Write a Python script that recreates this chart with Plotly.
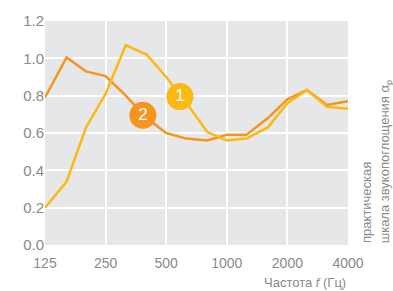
import plotly.graph_objects as go

freqs = [125, 160, 200, 250, 315, 400, 500, 630, 800, 1000, 1250, 1600, 2000, 2500, 3150, 4000]
series1 = [0.20, 0.34, 0.63, 0.81, 1.07, 1.02, 0.90, 0.76, 0.605, 0.56, 0.57, 0.63, 0.76, 0.83, 0.74, 0.73]
series2 = [0.79, 1.005, 0.93, 0.905, 0.80, 0.68, 0.60, 0.57, 0.56, 0.59, 0.59, 0.68, 0.78, 0.83, 0.75, 0.77]
x_ticks = [125, 250, 500, 1000, 2000, 4000]
y_ticks = [0.0, 0.2, 0.4, 0.6, 0.8, 1.0, 1.2]
series_labels = ["1", "2"]

YELLOW = "#FDB913"
ORANGE = "#F7941D"
GRAY = "#8a8a8a"
FONT = "Liberation Sans, Arial, sans-serif"

fig = go.Figure()
fig.add_trace(go.Scatter(x=freqs, y=series2, mode="lines",
                         line=dict(color=ORANGE, width=2.5), hoverinfo="skip"))
fig.add_trace(go.Scatter(x=freqs, y=series1, mode="lines",
                         line=dict(color=YELLOW, width=2.5), hoverinfo="skip"))
# numbered badges
fig.add_trace(go.Scatter(x=[383], y=[0.695], mode="markers+text", text=[series_labels[1]],
                         marker=dict(size=27, color=ORANGE, line=dict(width=0)),
                         textfont=dict(color="white", size=17, family=FONT),
                         textposition="middle center", hoverinfo="skip"))
fig.add_trace(go.Scatter(x=[585], y=[0.795], mode="markers+text", text=[series_labels[0]],
                         marker=dict(size=27, color=YELLOW, line=dict(width=0)),
                         textfont=dict(color="white", size=17, family=FONT),
                         textposition="middle center", hoverinfo="skip"))

fig.update_layout(
    width=393, height=291,
    margin=dict(l=45, r=45, t=18, b=46),
    paper_bgcolor="white", plot_bgcolor="#e6e7e8",
    showlegend=False,
    font=dict(family=FONT, color=GRAY, size=14),
    xaxis=dict(type="log", range=[2.09691, 3.60206], tickvals=x_ticks,
               ticktext=[str(v) for v in x_ticks],
               showgrid=True, gridcolor="white", gridwidth=1.5,
               zeroline=False, showline=False, ticks="", ticklen=0,
               ticklabelstandoff=8,
               tickfont=dict(size=14, color=GRAY)),
    yaxis=dict(range=[0, 1.2], tickvals=y_ticks, tickformat=".1f",
               showgrid=True, gridcolor="white", gridwidth=1.5,
               zeroline=False, showline=False, ticks="",
               tickfont=dict(size=15, color=GRAY)),
    annotations=[
        dict(text="Частота <i>f</i> (Гц)", xref="paper", yref="paper",
             x=1.0, y=-0.167, xanchor="right", yanchor="middle", showarrow=False,
             font=dict(size=13, color=GRAY, family=FONT)),
        dict(text="практическая", xref="paper", yref="paper",
             x=1.03, y=0.0, xanchor="left", yanchor="bottom", textangle=-90,
             showarrow=False, font=dict(size=13, color=GRAY, family=FONT)),
        dict(text="шкала звукопоглощения α<sub>p</sub>", xref="paper", yref="paper",
             x=1.09, y=0.0, xanchor="left", yanchor="bottom", textangle=-90,
             showarrow=False, font=dict(size=13, color=GRAY, family=FONT)),
    ],
)

fig.write_html("out.html", config={"displayModeBar": False},
               post_script="document.body.style.margin='0';")
